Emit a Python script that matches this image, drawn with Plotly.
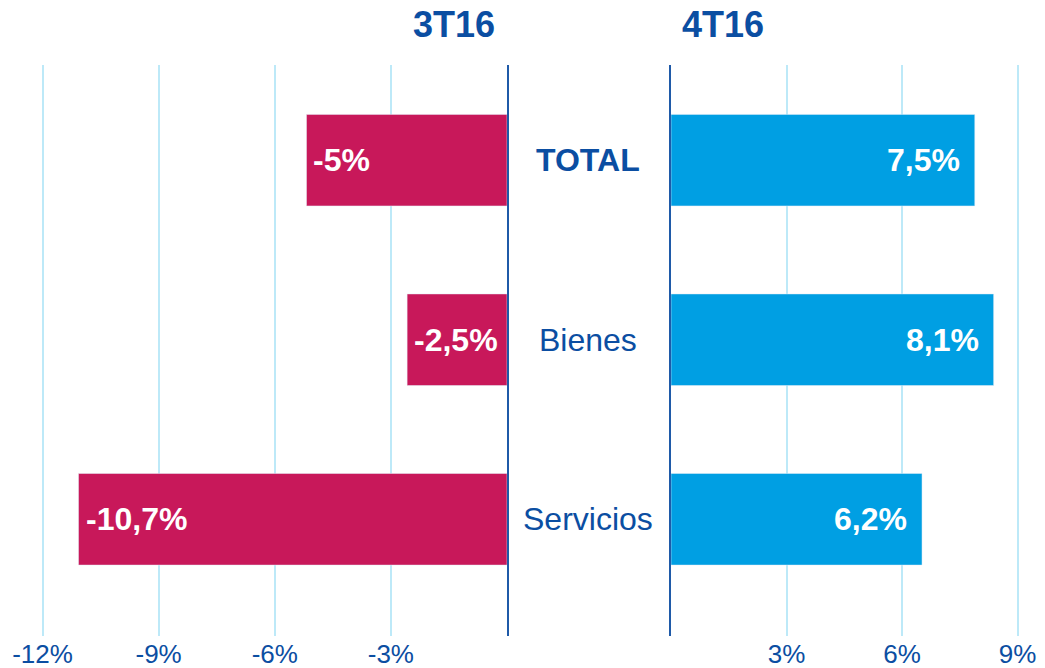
import plotly.graph_objects as go

categories = ["TOTAL", "Bienes", "Servicios"]
periods = ["3T16", "4T16"]
values_3t16 = [-5.18, -2.58, -11.07]
values_4t16 = [7.89, 8.38, 6.52]
labels_3t16 = ["-5%", "-2,5%", "-10,7%"]
labels_4t16 = ["7,5%", "8,1%", "6,2%"]
left_ticks = [-12, -9, -6, -3]
left_ticktext = ["-12%", "-9%", "-6%", "-3%"]
right_ticks = [3, 6, 9]
right_ticktext = ["3%", "6%", "9%"]

W, H = 1045, 668
FONT = "Liberation Sans, Arial, sans-serif"
DARK = "#0B4EA2"
AXIS = "#1F5AA8"
RED = "#C8185A"
BLUE = "#009FE3"
GRID = "#BDE9F8"

fig = go.Figure()
fig.add_trace(go.Bar(y=categories, x=values_3t16, orientation="h", marker_color=RED,
                     width=0.51, xaxis="x", yaxis="y", showlegend=False, hoverinfo="x+y"))
fig.add_trace(go.Bar(y=categories, x=values_4t16, orientation="h", marker_color=BLUE,
                     width=0.51, xaxis="x2", yaxis="y2", showlegend=False, hoverinfo="x+y"))

annotations = []
for c, v, t in zip(categories, values_3t16, labels_3t16):
    annotations.append(dict(x=v, y=c, xref="x", yref="y", text="<b>%s</b>" % t, showarrow=False,
                            xanchor="left", xshift=5, font=dict(family=FONT, size=32, color="white")))
for c, v, t in zip(categories, values_4t16, labels_4t16):
    annotations.append(dict(x=v, y=c, xref="x2", yref="y2", text="<b>%s</b>" % t, showarrow=False,
                            xanchor="right", xshift=-13, font=dict(family=FONT, size=32, color="white")))
for c in categories:
    txt = "<b>%s</b>" % c if c == "TOTAL" else c
    annotations.append(dict(x=587.5 / W, y=c, xref="paper", yref="y", text=txt, showarrow=False,
                            xanchor="center", font=dict(family=FONT, size=32, color=DARK)))
for p, px in zip(periods, [454, 723]):
    annotations.append(dict(x=px / W, y=(636 - 25) / 571, xref="paper", yref="paper",
                            text="<b>%s</b>" % p, showarrow=False, xanchor="center", yanchor="middle",
                            font=dict(family=FONT, size=36, color=DARK)))

px_left = (507 - 42.5) / 12
px_right = 115.5 / 3
yrange = [2.65, -0.53]
fig.update_layout(
    width=W, height=H,
    margin=dict(l=0, r=0, t=65, b=32, autoexpand=False),
    paper_bgcolor="white", plot_bgcolor="white",
    xaxis=dict(domain=[0, 507 / W], range=[-507 / px_left, 0], tickvals=left_ticks, ticktext=left_ticktext,
               showgrid=True, gridcolor=GRID, gridwidth=2, zeroline=False, showline=False,
               tickfont=dict(family=FONT, size=26, color=DARK), ticks="", ticklabelstandoff=0,
               anchor="y", automargin=False),
    xaxis2=dict(domain=[671 / W, 1], range=[0, 374 / px_right], tickvals=right_ticks,
                ticktext=right_ticktext,
                showgrid=True, gridcolor=GRID, gridwidth=2, zeroline=False, showline=False,
                tickfont=dict(family=FONT, size=26, color=DARK), ticks="", ticklabelstandoff=0,
                anchor="y2", automargin=False),
    yaxis=dict(range=yrange, showticklabels=False, showgrid=False, zeroline=False,
               showline=True, linecolor=AXIS, linewidth=2, side="right", anchor="x",
               type="category", categoryorder="array", categoryarray=categories, automargin=False),
    yaxis2=dict(range=yrange, showticklabels=False, showgrid=False, zeroline=False,
                showline=True, linecolor=AXIS, linewidth=2, side="left", anchor="x2",
                type="category", categoryorder="array", categoryarray=categories, matches="y",
                automargin=False),
    annotations=annotations,
)

fig.write_html("out.html", config={"displayModeBar": False},
               post_script="document.body.style.margin='0';document.body.style.overflow='hidden';")
